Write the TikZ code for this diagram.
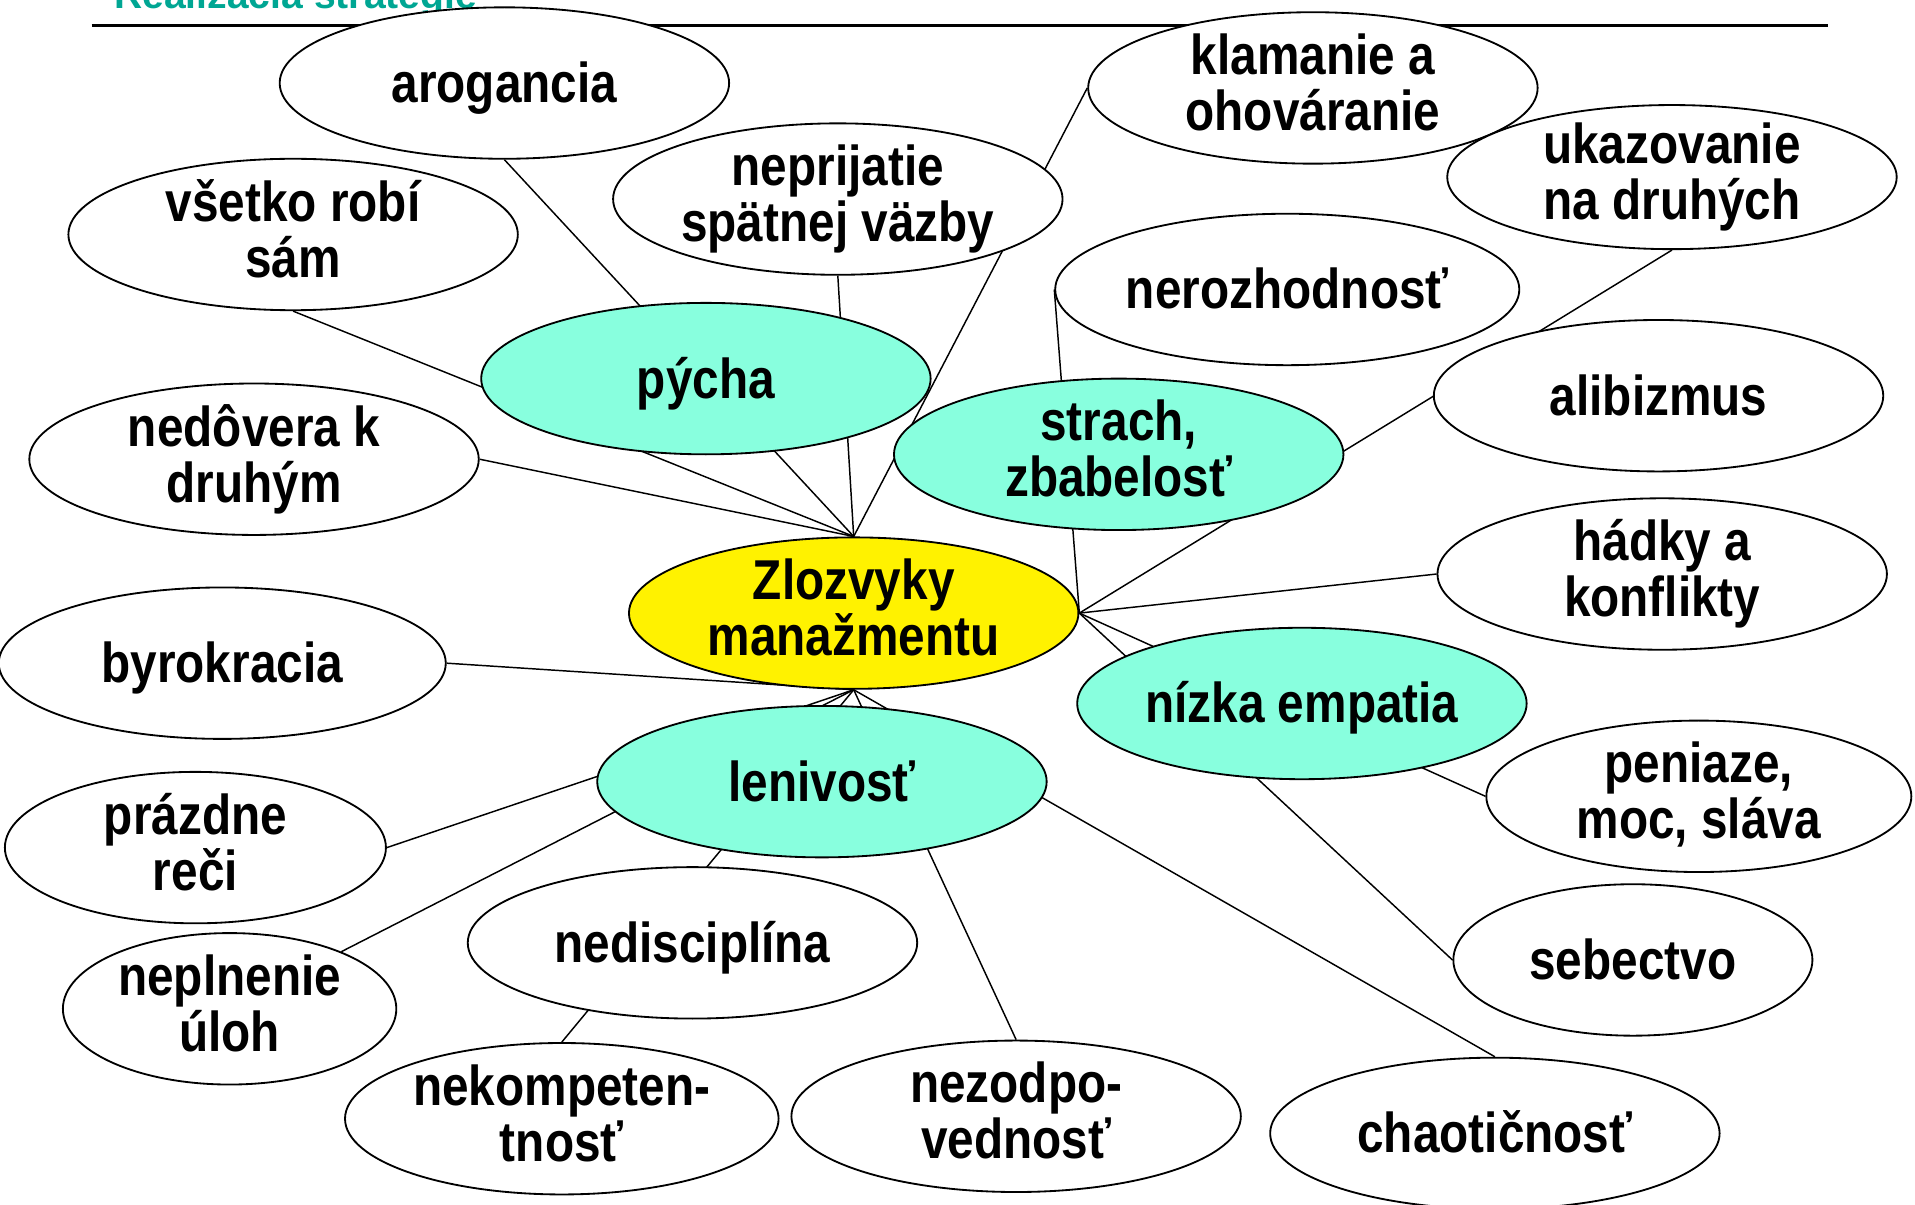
\documentclass[tikz,border=0pt]{standalone}
\usepackage{fontspec}
\setmainfont{Liberation Sans}
\newfontfamily\nodefont{Liberation Sans}[FakeStretch=0.85]
\usetikzlibrary{shapes.geometric}
\definecolor{cyanfill}{RGB}{136,255,222}
\definecolor{titleteal}{RGB}{0,166,147}
\pgfdeclarelayer{bg}
\pgfsetlayers{bg,main}
\newcommand\topstrut{\lineskiplimit=-1000pt\relax\lineskip=0pt\relax\rule{0pt}{41.6pt}}
\newcommand\botstrut{\rule[-9.8pt]{0pt}{9.8pt}}
\tikzset{
  base/.style={ellipse, draw=black, line width=1.5pt, inner sep=-30pt,
    minimum width=368pt, minimum height=124pt, align=center,
    font=\nodefont\bfseries\fontsize{46}{46}\selectfont,
    execute at begin node=\topstrut, execute at end node=\botstrut},
  leaf/.style={base, fill=white},
  cat/.style={base, fill=cyanfill},
  hub/.style={base, fill=yellow},
  conn/.style={line width=1.2pt},
}
\begin{document}
\begin{tikzpicture}[x=1pt,y=-1pt]
\useasboundingbox (0,0) rectangle (1568,986);
\node[anchor=base west, text=titleteal, font=\bfseries\fontsize{32}{32}\selectfont] (title) at (90,7) {Realizácia stratégie};
\draw[line width=2pt] (75,21) -- (1497,21);
% leaves
\node[leaf] (arog) at (413,68) {arogancia};
\node[leaf] (vset) at (240,192) {všetko robí\\sám};
\node[leaf] (nepr) at (686,163) {neprijatie\\spätnej väzby};
\node[leaf] (klam) at (1075,72) {klamanie a\\ohováranie};
\node[leaf, minimum height=118pt] (ukaz) at (1369,145) {ukazovanie\\na druhých};
\node[leaf, minimum width=380pt] (neroz) at (1054,237) {nerozhodnosť};
\node[leaf] (nedov) at (208,376) {nedôvera k\\druhým};
\node[leaf] (alib) at (1358,324) {alibizmus};
\node[leaf] (hadky) at (1361,470) {hádky a\\konflikty};
\node[leaf, minimum width=366pt] (byro) at (182,543) {byrokracia};
\node[leaf, minimum width=312pt] (prazd) at (160,694) {prázdne\\reči};
\node[leaf, minimum width=348pt] (pen) at (1391,652) {peniaze,\\moc, sláva};
\node[leaf] (nedis) at (567,772) {nedisciplína};
\node[leaf, minimum width=273pt] (nepl) at (188,826) {neplnenie\\úloh};
\node[leaf, minimum width=294pt] (sebec) at (1337,786) {sebectvo};
\node[leaf, minimum width=355pt] (nekom) at (460,916) {nekompeten-\\tnosť};
\node[leaf] (nezod) at (832,914) {nezodpo-\\vednosť};
\node[leaf] (chaot) at (1224,928) {chaotičnosť};
% categories
\node[cat] (pycha) at (578,310) {pýcha};
\node[cat] (strach) at (916,372) {strach,\\zbabelosť};
\node[cat] (nizka) at (1066,576) {nízka empatia};
\node[cat] (leniv) at (673,640) {lenivosť};
% hub
\node[hub] (hub) at (699,502) {Zlozvyky\\manažmentu};
\begin{pgfonlayer}{bg}
\draw[conn] (arog.south) -- (hub.north);
\draw[conn] (vset.south) -- (hub.north);
\draw[conn] (nedov.east) -- (hub.north);
\draw[conn] (nepr.south) -- (hub.north);
\draw[conn] (klam.west) -- (hub.north);
\draw[conn] (neroz.west) -- (hub.east);
\draw[conn] (ukaz.south) -- (hub.east);
\draw[conn] (hadky.west) -- (hub.east);
\draw[conn] (pen.west) -- (hub.east);
\draw[conn] (sebec.west) -- (hub.east);
\draw[conn] (byro.east) -- (hub.south);
\draw[conn] (prazd.east) -- (hub.south);
\draw[conn] (nepl) -- (hub.south);
\draw[conn] (nekom.north) -- (hub.south);
\draw[conn] (nezod.north) -- (hub.south);
\draw[conn] (chaot.north) -- (hub.south);
\end{pgfonlayer}
\end{tikzpicture}
\end{document}
